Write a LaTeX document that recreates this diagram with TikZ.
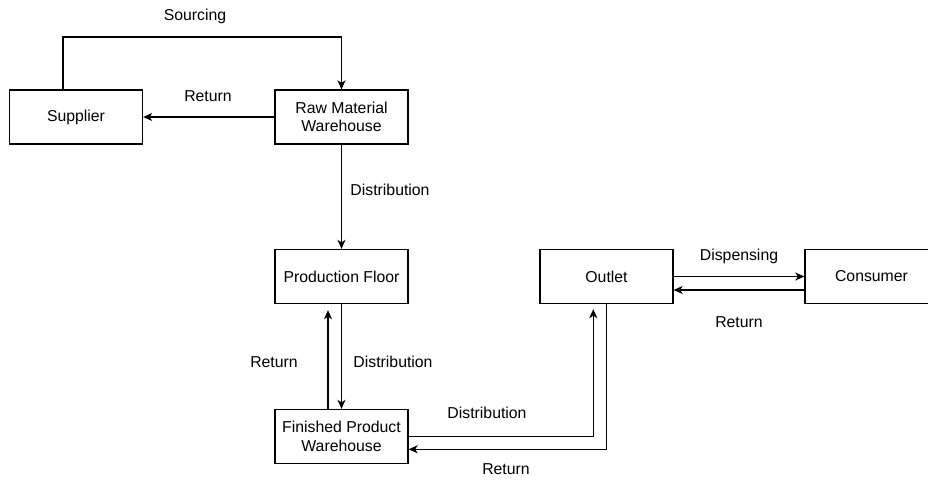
\documentclass[tikz,border=0pt]{standalone}
\usepackage{fontspec}
\setmainfont{Liberation Sans}
\usetikzlibrary{arrows.meta,calc}
\tikzset{
  box/.style={draw, line width=1.3pt, minimum width=133pt, minimum height=54pt,
    inner sep=0pt, align=center, font=\fontsize{15.8}{18.5}\selectfont},
  lbl/.style={inner sep=0pt, font=\fontsize{15.8}{18.5}\selectfont},
  flow/.style={line width=1.3pt, -{Stealth[length=9pt,width=8pt,inset=2.5pt]}},
}
\begin{document}
\begin{tikzpicture}[x=1pt,y=-1pt]
\useasboundingbox (0,0) rectangle (928,479);

% stations of the chain
\node[box] (sup) at (76,117) {Supplier};
\node[box] (rmw) at (341.5,117) {Raw Material\\Warehouse};
\node[box] (pf)  at (341.5,276.5) {Production Floor};
\node[box] (fpw) at (341.5,436.5) {Finished Product\\Warehouse};
\node[box] (out) at (606.5,276.5) {Outlet};
\node[box] (con) at (871.5,276.5) {Consumer};

% bend points of the routed connectors
\coordinate (src) at (63,37);
\coordinate (rup) at (328,0);
\coordinate (dout) at (593.3,0);
\coordinate (rout) at (606.8,449.3);

% supplier <-> raw material
\draw[flow] (sup.north -| src) -- (src) -| (rmw.north);
\draw[flow] (rmw.west) -- (sup.east);

% raw material -> production -> finished goods
\draw[flow] (rmw.south) -- (pf.north);
\draw[flow] (pf.south) -- (fpw.north);
\draw[flow, shorten >=6pt] (fpw.north -| rup) -- (pf.south -| rup);

% finished goods <-> outlet
\draw[flow, shorten >=5pt] (fpw.east) -| (out.south -| dout);
\draw[flow] (out.south -| rout) |- (fpw.east |- rout);

% outlet <-> consumer
\draw[flow] (out.east) -- (con.west);
\draw[flow] ([yshift=-13.5pt]con.west) -- ([yshift=-13.5pt]out.east);

% connector labels
\node[lbl] (l1) at (195,16)  {Sourcing};
\node[lbl] (l2) at (208,96)  {Return};
\node[lbl] (l3) at (390,190) {Distribution};
\node[lbl] (l4) at (274,362) {Return};
\node[lbl] (l5) at (393,362) {Distribution};
\node[lbl] (l6) at (487,413) {Distribution};
\node[lbl] (l7) at (506,469) {Return};
\node[lbl] (l8) at (739,256) {Dispensing};
\node[lbl] (l9) at (739,322) {Return};
\end{tikzpicture}
\end{document}
